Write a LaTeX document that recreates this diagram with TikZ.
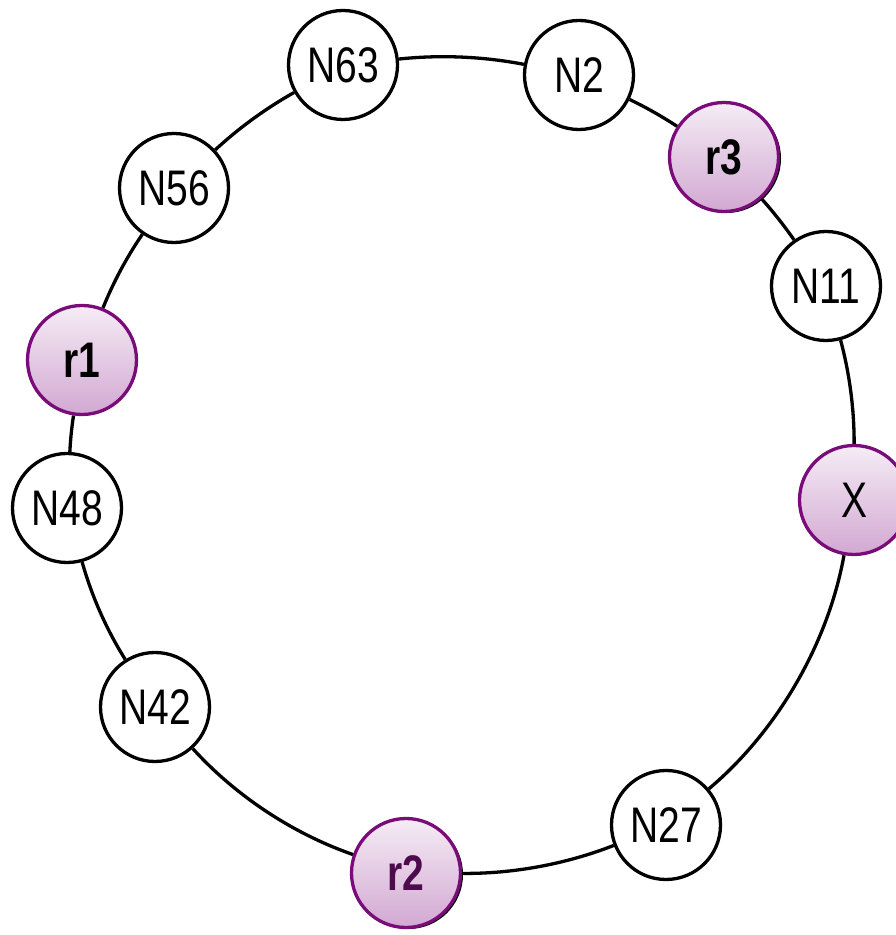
\documentclass[tikz,border=0pt]{standalone}
\usepackage{fontspec}
\setmainfont{Liberation Sans}[FakeStretch=0.78]
\usetikzlibrary{shadows}
\definecolor{ringpurple}{HTML}{7A0C7A}
\definecolor{toplav}{HTML}{F5ECF5}
\definecolor{botlav}{HTML}{D2A8D2}
\definecolor{rtwo}{HTML}{4D0A4D}
\begin{document}
\begin{tikzpicture}[x=1pt,y=1pt,
  ringnode/.style={circle, draw=black, line width=3.3pt, fill=white, minimum size=109pt, inner sep=0pt, font=\fontsize{50}{60}\selectfont},
  keynode/.style={ringnode, draw=ringpurple, top color=toplav, bottom color=botlav},
  shadowed/.style={drop shadow={fill=black, opacity=1, shadow xshift=2.5pt, shadow yshift=-1.5pt}},
  ringline/.style={line width=3.3pt, black, looseness=0.85}]
\useasboundingbox (0,0) rectangle (896,935);
\clip (0,0) rectangle (896,935);
\node[ringnode] (N63) at (343,870) {N63};
\node[ringnode] (N2) at (579,860) {N2};
\node[keynode, shadowed] (r3) at (724,778) {\bfseries r3};
\node[ringnode] (N11) at (826,649) {N11};
\node[keynode] (X) at (854,435) {X};
\node[ringnode] (N27) at (666,110) {N27};
\node[keynode, shadowed, text=rtwo] (r2) at (406,62) {\bfseries r2};
\node[ringnode] (N42) at (155,228) {N42};
\node[ringnode] (N48) at (67,427) {N48};
\node[keynode] (r1) at (82,575) {\bfseries r1};
\node[ringnode] (N56) at (174,747) {N56};
\draw[ringline] (N63) to[bend left=8.5] (N2);
\draw[ringline] (N2) to[bend left=3.7] (r3);
\draw[ringline] (r3) to[bend left=3.6] (N11);
\draw[ringline] (N11) to[bend left=7.6] (X);
\draw[ringline] (X) to[bend left=19.8] (N27);
\draw[ringline] (N27) to[bend left=10.9] (r2);
\draw[ringline] (r2) to[bend left=14.3] (N42);
\draw[ringline] (N42) to[bend left=8.2] (N48);
\draw[ringline] (N48) to[bend left=2.9] (r1);
\draw[ringline] (r1) to[bend left=6.2] (N56);
\draw[ringline] (N56) to[bend left=6.7] (N63);
\end{tikzpicture}
\end{document}
